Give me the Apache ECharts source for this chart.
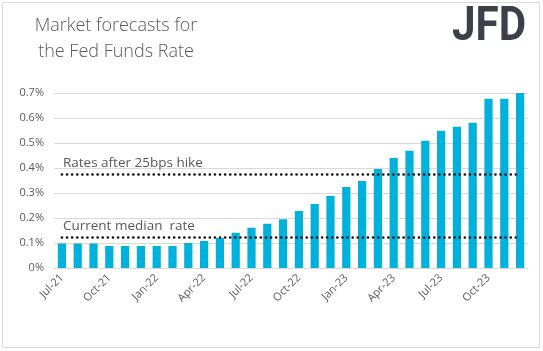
<!DOCTYPE html>
<html>
<head>
<meta charset="utf-8">
<script src="https://cdn.jsdelivr.net/npm/echarts@6/dist/echarts.min.js"></script>
<style>
  html, body { margin: 0; padding: 0; background: #fff; }
  #chart { width: 543px; height: 351px; }
</style>
</head>
<body>
<div id="chart"></div>
<script>
// monthly market-implied fed funds rate (%)
const months = [
  'Jul-21', 'Aug-21', 'Sep-21', 'Oct-21', 'Nov-21', 'Dec-21',
  'Jan-22', 'Feb-22', 'Mar-22', 'Apr-22', 'May-22', 'Jun-22',
  'Jul-22', 'Aug-22', 'Sep-22', 'Oct-22', 'Nov-22', 'Dec-22',
  'Jan-23', 'Feb-23', 'Mar-23', 'Apr-23', 'May-23', 'Jun-23',
  'Jul-23', 'Aug-23', 'Sep-23', 'Oct-23', 'Nov-23', 'Dec-23'
]
const rates = [
  0.098, 0.098, 0.098, 0.088, 0.088, 0.088,
  0.088, 0.088, 0.100, 0.108, 0.120, 0.141,
  0.161, 0.177, 0.195, 0.228, 0.256, 0.288,
  0.324, 0.348, 0.396, 0.440, 0.469, 0.509,
  0.549, 0.565, 0.581, 0.677, 0.677, 0.701
]
const currentRate = 0.125
const hikeRate = 0.375
const currentLabel = 'Current median  rate'
const hikeLabel = 'Rates after 25bps hike'

const textColor = '#595959'
const font = '"Open Sans", "Liberation Sans", sans-serif'

const chart = echarts.init(document.getElementById('chart'))

function refLine(val, text) {
  return [
    {
      coord: [0, val],
      label: {
        show: true,
        formatter: text,
        position: 'insideStartTop',
        distance: [1, 4],
        color: textColor,
        fontFamily: font,
        fontSize: 13.5
      }
    },
    { coord: [months.length - 1, val] }
  ]
}

chart.setOption({
  animation: false,
  textStyle: { fontFamily: font },
  graphic: [
    {
      type: 'rect',
      shape: { x: 2.5, y: 2.5, width: 537, height: 345 },
      style: { fill: 'none', stroke: '#d9d9d9', lineWidth: 1 }
    },
    {
      type: 'text',
      x: 116,
      y: 13,
      style: {
        text: 'Market forecasts for\nthe Fed Funds Rate',
        textAlign: 'center',
        fill: textColor,
        font: '300 18px ' + font,
        lineHeight: 26
      }
    },
    {
      type: 'text',
      x: 452,
      y: 3,
      scaleX: 0.86,
      style: {
        text: 'JFD',
        fill: '#3b4049',
        font: 'bold 49px Roboto, sans-serif'
      }
    }
  ],
  grid: {
    left: 54,
    right: 15,
    top: 93,
    bottom: 83
  },
  xAxis: {
    type: 'category',
    data: months,
    axisLine: { lineStyle: { color: '#d9d9d9' } },
    axisTick: { interval: 2, length: 5, lineStyle: { color: '#d9d9d9' } },
    axisLabel: {
      interval: 2,
      rotate: 45,
      color: textColor,
      fontSize: 11,
      margin: 8
    }
  },
  yAxis: {
    type: 'value',
    min: 0,
    max: 0.7,
    interval: 0.1,
    axisLine: { show: false },
    axisTick: { show: false },
    splitLine: { lineStyle: { color: '#d9d9d9' } },
    axisLabel: {
      color: textColor,
      fontSize: 11,
      margin: 10,
      formatter: v => (v === 0 ? '0' : v.toFixed(1)) + '%'
    }
  },
  series: [
    {
      type: 'bar',
      data: rates,
      barWidth: '52%',
      itemStyle: { color: '#00B2DB' },
      markLine: {
        silent: true,
        symbol: 'none',
        lineStyle: {
          color: '#111',
          width: 2.6,
          type: [0.1, 5],
          cap: 'round'
        },
        data: [refLine(hikeRate, hikeLabel), refLine(currentRate, currentLabel)]
      }
    }
  ]
})
</script>
</body>
</html>
